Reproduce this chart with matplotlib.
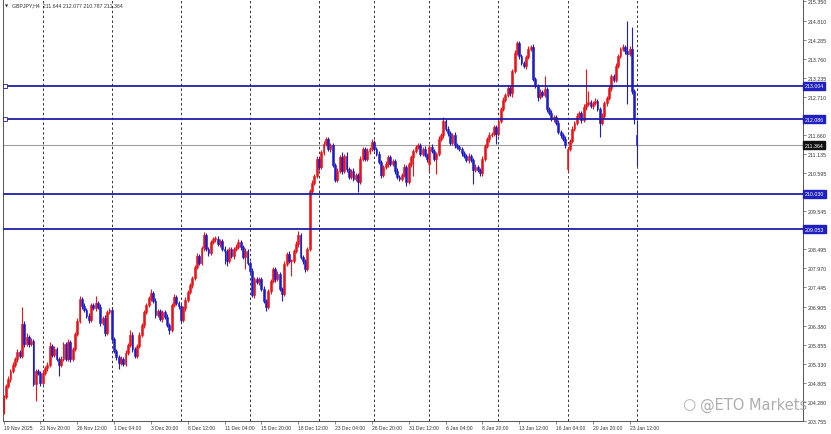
import matplotlib
matplotlib.use("Agg")
import matplotlib.pyplot as plt
import matplotlib.transforms as mtransforms

# ---------------- data (GBPJPY H4) ----------------
first_open = 204.03
closes = [
    204.42, 204.72, 204.91, 205.13, 205.30, 205.47, 205.66, 205.55, 206.43, 205.88,
    206.07, 205.88, 205.96, 204.78, 205.13, 205.08, 204.80, 205.08, 205.22, 205.30,
    205.83, 205.58, 205.74, 205.47, 205.30, 205.47, 205.88, 205.47, 205.94, 205.47,
    205.74, 206.16, 206.52, 207.12, 206.93, 206.82, 206.65, 206.54, 206.96, 206.87,
    207.01, 206.90, 206.46, 206.60, 206.18, 206.76, 206.82, 206.02, 205.69, 205.52,
    205.36, 205.47, 205.33, 205.63, 205.85, 206.13, 205.74, 205.55, 205.83, 206.13,
    206.40, 206.76, 206.96, 207.15, 207.29, 207.07, 206.68, 206.79, 206.57, 206.76,
    206.63, 206.40, 206.27, 206.96, 207.18, 207.01, 206.93, 206.54, 206.87, 207.10,
    207.32, 207.51, 207.70, 208.01, 208.31, 208.12, 208.53, 208.89, 208.50, 208.39,
    208.70, 208.78, 208.78, 208.64, 208.72, 208.50, 208.45, 208.17, 208.50, 208.31,
    208.50, 208.56, 208.70, 208.56, 208.28, 208.45, 208.12, 207.90, 207.23, 207.67,
    207.59, 207.67, 207.40, 207.07, 206.90, 207.34, 207.62, 207.95, 207.67, 207.81,
    207.40, 207.26, 208.09, 208.37, 208.17, 208.17, 208.45, 208.64, 208.89, 208.28,
    208.17, 207.95, 208.50, 210.10, 210.33, 210.52, 210.99, 210.77, 211.18, 211.40,
    211.54, 211.26, 211.37, 210.82, 210.41, 210.66, 211.04, 210.66, 211.07, 210.71,
    210.49, 210.66, 210.44, 210.55, 210.35, 210.99, 211.26, 210.99, 211.21, 211.26,
    211.46, 211.26, 211.13, 210.91, 210.55, 210.77, 210.85, 211.04, 210.85, 210.93,
    210.66, 210.49, 210.44, 210.55, 210.77, 210.35, 210.85, 211.04, 211.21, 211.32,
    211.37, 211.13, 211.26, 211.10, 210.99, 211.32, 211.21, 210.99, 211.13, 211.54,
    211.65, 212.04, 211.82, 211.71, 211.43, 211.65, 211.37, 211.32, 211.26, 211.15,
    211.07, 210.96, 211.07, 210.96, 210.68, 210.77, 210.68, 210.60, 210.99, 211.35,
    211.54, 211.65, 211.68, 211.87, 211.68, 212.04, 212.37, 212.62, 212.76, 212.95,
    212.81, 213.42, 213.91, 214.19, 213.83, 213.64, 213.56, 213.80, 214.03, 214.08,
    213.20, 213.00, 212.70, 212.84, 212.76, 212.92, 212.37, 212.26, 212.09, 212.15,
    211.98, 211.73, 211.65, 211.54, 211.37, 211.26, 211.49, 211.82, 211.98, 212.18,
    212.26, 212.06, 212.42, 212.51, 212.56, 212.45, 212.53, 212.59, 212.37, 211.98,
    212.18, 212.53, 212.67, 212.95, 213.28, 213.17, 213.56, 213.83, 214.03, 214.08,
    213.97, 213.89, 214.03, 212.87, 212.09, 211.364,
]
# opens differing from the previous close (weekend gaps / last bar)
gap_opens = {185: 210.85, 245: 210.71, 275: 211.644}

upper_wick = [
    0.06, 0.05, 0.08, 0.05, 0.07, 0.06, 0.09, 0.05, 0.47, 0.08,
    0.10, 0.06, 0.08, 0.05, 0.06, 0.07, 0.05, 0.08, 0.06, 0.07,
    0.11, 0.05, 0.08, 0.06, 0.05, 0.07, 0.06, 0.05, 0.09, 0.06,
    0.07, 0.06, 0.08, 0.08, 0.05, 0.07, 0.06, 0.09, 0.06, 0.05,
    0.19, 0.06, 0.08, 0.05, 0.07, 0.06, 0.05, 0.08, 0.06, 0.05,
    0.06, 0.07, 0.05, 0.08, 0.06, 0.14, 0.07, 0.05, 0.06, 0.08,
    0.05, 0.07, 0.06, 0.05, 0.11, 0.06, 0.08, 0.05, 0.07, 0.06,
    0.05, 0.07, 0.06, 0.05, 0.08, 0.06, 0.07, 0.05, 0.06, 0.08,
    0.05, 0.06, 0.07, 0.05, 0.08, 0.06, 0.05, 0.08, 0.06, 0.07,
    0.05, 0.06, 0.08, 0.07, 0.05, 0.06, 0.08, 0.05, 0.07, 0.06,
    0.05, 0.07, 0.08, 0.06, 0.05, 0.07, 0.06, 0.05, 0.08, 0.06,
    0.07, 0.05, 0.06, 0.08, 0.05, 0.07, 0.06, 0.06, 0.05, 0.08,
    0.06, 0.05, 0.07, 0.06, 0.08, 0.05, 0.06, 0.07, 0.11, 0.05,
    0.06, 0.07, 0.05, 0.06, 0.07, 0.05, 0.08, 0.06, 0.05, 0.08,
    0.06, 0.05, 0.07, 0.06, 0.05, 0.08, 0.06, 0.14, 0.05, 0.11,
    0.06, 0.05, 0.07, 0.06, 0.05, 0.07, 0.06, 0.05, 0.08, 0.06,
    0.08, 0.05, 0.06, 0.07, 0.05, 0.06, 0.08, 0.05, 0.07, 0.06,
    0.05, 0.07, 0.06, 0.05, 0.08, 0.06, 0.05, 0.07, 0.06, 0.05,
    0.07, 0.06, 0.05, 0.08, 0.06, 0.05, 0.07, 0.06, 0.05, 0.08,
    0.06, 0.11, 0.05, 0.07, 0.06, 0.05, 0.08, 0.06, 0.05, 0.07,
    0.06, 0.05, 0.08, 0.06, 0.05, 0.07, 0.06, 0.05, 0.07, 0.06,
    0.05, 0.08, 0.06, 0.05, 0.07, 0.06, 0.05, 0.08, 0.06, 0.07,
    0.05, 0.06, 0.08, 0.06, 0.05, 0.07, 0.06, 0.05, 0.08, 0.06,
    0.07, 0.05, 0.06, 0.08, 0.05, 0.36, 0.06, 0.05, 0.07, 0.06,
    0.05, 0.08, 0.06, 0.05, 0.07, 0.06, 0.05, 0.08, 0.06, 0.07,
    0.05, 0.06, 0.08, 0.97, 0.30, 0.06, 0.05, 0.07, 0.06, 0.05,
    0.08, 0.06, 0.05, 0.07, 0.06, 0.05, 0.08, 0.06, 0.05, 0.07,
    0.06, 0.83, 0.08, 0.61, 0.06, 0.433,
]
lower_wick = [
    0.08, 0.06, 0.05, 0.07, 0.06, 0.05, 0.08, 0.06, 0.05, 0.07,
    0.06, 0.08, 0.05, 0.05, 0.47, 0.06, 0.07, 0.05, 0.06, 0.08,
    0.05, 0.07, 0.06, 0.05, 0.30, 0.06, 0.05, 0.07, 0.06, 0.08,
    0.05, 0.06, 0.07, 0.05, 0.08, 0.06, 0.05, 0.07, 0.06, 0.05,
    0.08, 0.06, 0.07, 0.05, 0.08, 0.06, 0.05, 0.07, 0.06, 0.08,
    0.17, 0.06, 0.05, 0.07, 0.06, 0.05, 0.08, 0.06, 0.07, 0.05,
    0.06, 0.08, 0.05, 0.06, 0.07, 0.05, 0.08, 0.06, 0.05, 0.07,
    0.06, 0.05, 0.11, 0.07, 0.06, 0.05, 0.08, 0.06, 0.05, 0.07,
    0.06, 0.05, 0.08, 0.06, 0.07, 0.05, 0.06, 0.08, 0.05, 0.07,
    0.06, 0.05, 0.08, 0.06, 0.07, 0.05, 0.36, 0.14, 0.06, 0.05,
    0.07, 0.06, 0.05, 0.08, 0.06, 0.33, 0.07, 0.05, 0.06, 0.08,
    0.05, 0.07, 0.06, 0.05, 0.11, 0.06, 0.07, 0.05, 0.08, 0.06,
    0.05, 0.19, 0.06, 0.07, 0.05, 0.41, 0.06, 0.05, 0.08, 0.06,
    0.07, 0.08, 0.06, 0.05, 0.07, 0.06, 0.05, 0.08, 0.06, 0.07,
    0.05, 0.06, 0.08, 0.05, 0.07, 0.06, 0.05, 0.08, 0.06, 0.07,
    0.05, 0.06, 0.07, 0.05, 0.28, 0.06, 0.05, 0.07, 0.06, 0.08,
    0.05, 0.06, 0.07, 0.05, 0.08, 0.06, 0.05, 0.07, 0.06, 0.05,
    0.08, 0.06, 0.05, 0.07, 0.06, 0.11, 0.05, 0.07, 0.52, 0.06,
    0.05, 0.07, 0.06, 0.05, 0.08, 0.19, 0.06, 0.05, 0.41, 0.06,
    0.05, 0.07, 0.06, 0.08, 0.05, 0.06, 0.07, 0.05, 0.06, 0.08,
    0.05, 0.06, 0.07, 0.05, 0.39, 0.06, 0.05, 0.07, 0.08, 0.06,
    0.05, 0.07, 0.06, 0.05, 0.28, 0.06, 0.05, 0.07, 0.06, 0.05,
    0.08, 0.11, 0.05, 0.06, 0.07, 0.05, 0.06, 0.08, 0.05, 0.07,
    0.06, 0.05, 0.11, 0.06, 0.07, 0.05, 0.08, 0.06, 0.05, 0.07,
    0.06, 0.05, 0.08, 0.06, 0.07, 0.08, 0.05, 0.06, 0.07, 0.05,
    0.06, 0.08, 0.05, 0.07, 0.06, 0.05, 0.08, 0.06, 0.07, 0.39,
    0.05, 0.06, 0.07, 0.05, 0.08, 0.06, 0.05, 0.07, 0.06, 0.05,
    0.07, 1.38, 0.06, 0.08, 0.14, 0.577,
]

week_start_bars = [17, 47, 77, 107, 137, 161, 185, 215, 245, 275]
xlabel_bars = [0, 16, 32, 48, 64, 80, 96, 112, 128, 144, 160, 176, 192, 208, 224, 240, 256, 272]
xlabels = ["19 Nov 2025", "21 Nov 20:00", "26 Nov 12:00", "1 Dec 04:00", "3 Dec 20:00",
           "8 Dec 12:00", "11 Dec 04:00", "15 Dec 20:00", "18 Dec 12:00", "23 Dec 04:00",
           "26 Dec 20:00", "31 Dec 12:00", "6 Jan 04:00", "8 Jan 20:00", "13 Jan 12:00",
           "16 Jan 04:00", "20 Jan 20:00", "23 Jan 12:00"]
yticks = [215.350, 214.810, 214.285, 213.760, 213.235, 212.710, 211.660,
          211.135, 210.595, 209.545, 208.495, 207.970, 207.445,
          206.905, 206.380, 205.855, 205.330, 204.805, 204.280, 203.755]
levels = [213.004, 212.086, 210.030, 209.053]
last_price = 211.364
title = "GBPJPY,H4  211.644 212.077 210.787 211.364"

# ---------------- figure ----------------
W, H = 831, 435
FONT = ["Liberation Sans", "DejaVu Sans"]
plt.rcParams["font.family"] = FONT
fig = plt.figure(figsize=(W / 100, H / 100), dpi=100)
fig.patch.set_facecolor("white")
ax = fig.add_axes([3 / W, 13 / H, 800 / W, 422 / H])
ax.set_facecolor("white")

BULL = "#e8141a"
BEAR = "#1c1cc8"
LEVEL = "#1f1fa6"

n = len(closes)
opens = []
prev = first_open
for i in range(n):
    o = gap_opens.get(i, prev)
    opens.append(o)
    prev = closes[i]

for i in range(n):
    o, c = opens[i], closes[i]
    top, bot = max(o, c), min(o, c)
    hi, lo = top + upper_wick[i], bot - lower_wick[i]
    col = BULL if c >= o else BEAR
    ax.vlines(i, lo, hi, color=col, lw=0.8, zorder=3)
    ax.bar(i, max(top - bot, 0.025), bottom=bot, width=0.8, color=col,
           edgecolor=col, linewidth=0.4, zorder=4)

# weekly dotted grid
for b in week_start_bars:
    ax.axvline(b, color="#333333", lw=0.7, ls=(0, (2.5, 2.5)), zorder=1)

# horizontal levels
trans = mtransforms.blended_transform_factory(ax.transAxes, ax.transData)
for lv in levels:
    ax.axhline(lv, color=LEVEL, lw=1.3, zorder=5)
for lv in levels[:2]:
    ax.plot([0.003], [lv], marker="s", ms=2.2, mfc="white", mec=LEVEL, mew=0.6,
            transform=trans, zorder=6, clip_on=False)
ax.axhline(last_price, color="#a0a0a0", lw=0.8, zorder=2)

ax.set_xlim(-0.25, 347.3)
ax.set_ylim(203.754, 215.405)

# axes styling
ax.spines["top"].set_visible(False)
for s in ["left", "right", "bottom"]:
    ax.spines[s].set_color("#555555")
    ax.spines[s].set_linewidth(0.7)

ax.yaxis.tick_right()
ax.set_yticks(yticks)
ax.set_yticklabels([f"{v:.3f}" for v in yticks])
ax.tick_params(axis="y", which="both", length=2, width=0.5, pad=1.5,
               labelsize=3.8, labelcolor="#333333", color="#555555")
ax.set_xticks(xlabel_bars)
ax.set_xticklabels(xlabels, ha="left")
ax.tick_params(axis="x", length=2, width=0.5, pad=1, labelsize=3.6,
               labelcolor="#333333", color="#555555")

# price label boxes on the right axis
for lv in levels:
    ax.text(1.002, lv, f"{lv:.3f}", transform=trans, ha="left", va="center",
            fontsize=3.8, color="white", zorder=10, clip_on=False,
            bbox=dict(boxstyle="square,pad=0.3", fc="#2020c0", ec="#2020c0"))
ax.text(1.002, last_price, f"{last_price:.3f}", transform=trans, ha="left",
        va="center", fontsize=3.8, color="white", zorder=10, clip_on=False,
        bbox=dict(boxstyle="square,pad=0.3", fc="#111111", ec="#111111"))

# title
fig.text(5 / W, 1 - 6 / H, "\u25BC", fontsize=3, color="#333333", va="center",
         ha="left", family=["DejaVu Sans"])
fig.text(12 / W, 1 - 6 / H, title, fontsize=3.8, color="#333333", va="center", ha="left")

# watermark
fig.text(700 / W, 1 - 405 / H, "@ETO Markets", fontsize=10.5, color="#9a9a9a",
         alpha=0.8, va="center", ha="left", family=["DejaVu Sans"])
fig.text(689 / W, 1 - 405 / H, "\u25CB", fontsize=11, color="#9a9a9a",
         alpha=0.8, va="center", ha="center", family=["DejaVu Sans"])

fig.savefig("out.png", dpi=100, facecolor="white")
